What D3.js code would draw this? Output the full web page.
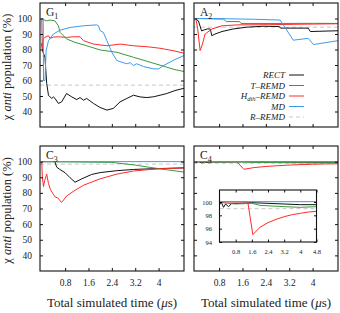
<!DOCTYPE html>
<html>
<head>
<meta charset="utf-8">
<script src="https://cdn.jsdelivr.net/npm/d3@7"></script>
<style>
  body { margin: 0; background: #fff; }
  svg text { fill: #222; }
  .tick line { stroke: #111; }
  .frame { fill: none; stroke: #111; stroke-width: 1.1px; }
  .series { fill: none; stroke-width: 1px; stroke-linejoin: round; }
</style>
</head>
<body>
<svg width="340" height="313" font-family="Liberation Serif"></svg>
<script>
// series names / colours
var seriesNames = ["RECT", "T-REMD", "Hdih-REMD", "MD", "R-REMD"];
var seriesColors = ["#111111", "#3a9a3a", "#ff2a2a", "#3a9cf0", "#c8c8c8"];

var xTicks = [0.8, 1.6, 2.4, 3.2, 4];
var yTicks = [40, 50, 60, 70, 80, 90, 100];
var insetXTicks = [0.8, 1.6, 2.4, 3.2, 4, 4.8];
var insetYTicks = [94, 96, 98, 100];

// G1  [time (us), population (%)]
var g1Rect = [[0,84],[0.03,79],[0.11,75],[0.17,58],[0.23,50.5],[0.34,48.4],[0.4,49.4],[0.45,48.5],[0.57,45.2],[0.68,46.2],[0.85,51.6],[1.03,49.4],[1.2,47.7],[1.31,49],[1.43,47.3],[1.54,48.4],[1.77,45.2],[2.0,42.6],[2.23,40.9],[2.45,42],[2.68,46.2],[2.91,48.4],[3.14,50.5],[3.37,49.4],[3.6,49],[3.83,49.5],[4.05,50.5],[4.28,51.6],[4.56,53.5],[4.87,55]];
var g1Tremd = [[0,99.6],[0.17,98.5],[0.28,99],[0.45,98.5],[0.57,95.3],[0.63,91],[0.85,86.8],[1.14,84.6],[1.54,82.4],[2.0,79.7],[2.57,78.2],[3.14,75],[3.71,71.8],[4.28,68.6],[4.56,67],[4.87,65.8]];
var g1Hdih = [[0,100],[0.02,80],[0.05,87],[0.11,87.8],[0.23,88.9],[0.28,87.2],[0.4,88],[0.57,88.2],[0.85,87.8],[1.08,88.2],[1.31,88.2],[1.43,85.7],[1.77,83.5],[2.23,82.4],[2.68,83.5],[3.14,82.4],[3.6,81.8],[4.05,80.8],[4.56,79],[4.87,77.6]];
var g1Md = [[0,100],[0.05,100],[0.06,60],[0.11,60],[0.15,79.3],[0.23,85.7],[0.4,90],[0.63,92.5],[0.97,94.2],[1.43,95.3],[1.88,95.9],[1.94,95.3],[2.0,92.1],[2.11,91],[2.23,85.7],[2.4,78.2],[2.57,72.9],[2.74,71.8],[2.91,70.8],[3.03,71.5],[3.14,69.7],[3.25,70.8],[3.48,69],[3.83,67.5],[4.0,67.5],[4.17,69.7],[4.39,71.8],[4.56,73.5],[4.87,76.1]];
var g1Rremd = 57;

// A2
var a2Rect = [[0,99.6],[0.09,98.5],[0.2,92],[0.31,92.8],[0.4,93.3],[0.5,93.2],[0.55,88.9],[0.66,90],[0.9,91.6],[1.27,93.2],[1.74,94.4],[2.3,95],[2.86,94.8],[2.9,93.8],[3.85,93.8],[3.92,91.6],[4.87,92.1]];
var a2Tremd = [[0,100],[0.95,99.6],[1.05,98],[1.5,98],[1.55,96.8],[3.0,96.8],[4.0,96.9],[4.87,96.8]];
var a2Hdih = [[0,100],[0.06,94.2],[0.15,79.3],[0.23,83.5],[0.32,90],[0.55,93.2],[0.9,95.3],[1.45,95.9],[2.5,96],[3.5,96.3],[4.87,96.6]];
var a2Md = [[0,100],[0.6,100],[2.0,99.5],[2.89,99],[3.34,86],[3.85,87.2],[4.03,83.2],[4.87,85.7]];
var a2Rremd = 94.4;

// C3
var c3Rect = [[0,100],[0.45,100],[0.51,96.5],[0.62,95],[0.8,92.9],[0.97,89.7],[1.14,86.8],[1.37,89],[1.71,91.8],[2.0,93],[2.57,94.2],[3.14,95],[3.71,95.4],[4.28,95.7],[4.87,96]];
var c3Tremd = [[0,100],[1.0,99.8],[2.4,99.5],[3.2,97.8],[3.71,96.3],[4.28,94.8],[4.87,93.3]];
var c3Hdih = [[0,100],[0.02,90],[0.06,84],[0.1,88],[0.17,92],[0.23,86],[0.3,82],[0.4,79],[0.45,77.5],[0.57,76.5],[0.62,75],[0.68,74],[0.75,75.5],[0.85,78],[1.14,81.7],[1.43,84.9],[2.0,89],[2.57,92],[3.14,94],[3.71,95],[4.28,95.6],[4.87,96]];
var c3Md = [[0,100],[4.87,100]];
var c3Rremd = 98.4;

// C4 (also used for the inset)
var c4Rect = [[0,99.6],[0.1,99.9],[0.2,99.2],[0.3,99.7],[0.45,99.3],[0.6,99.8],[1.0,99.8],[1.6,99.9],[2.4,99.8],[3.2,99.7],[4.0,99.6],[4.87,99.6]];
var c4Tremd = [[0,100],[0.4,99.8],[0.8,99.7],[1.6,99.8],[2.0,99.5],[2.6,99.4],[3.2,99.3],[4.0,99.2],[4.87,99.3]];
var c4Hdih = [[0,100],[1.4,100],[1.65,95.1],[2.0,96.2],[2.4,96.9],[2.8,97.4],[3.2,97.8],[3.6,98.1],[4.0,98.3],[4.4,98.5],[4.87,98.6]];
var c4Md = [[0,100.05],[4.87,100.05]];
var c4Rremd = 99;

var panels = [
  {label: "G", sub: "1", x0: 40, x1: 184, y0: 3, y1: 127, left: true, bottom: false,
   lines: [g1Rect, g1Tremd, g1Hdih, g1Md], rremd: g1Rremd},
  {label: "A", sub: "2", x0: 194, x1: 338, y0: 3, y1: 127, left: false, bottom: false,
   lines: [a2Rect, a2Tremd, a2Hdih, a2Md], rremd: a2Rremd, legend: true},
  {label: "C", sub: "3", x0: 40, x1: 184, y0: 146, y1: 271, left: true, bottom: true,
   lines: [c3Rect, c3Tremd, c3Hdih, c3Md], rremd: c3Rremd},
  {label: "C", sub: "4", x0: 194, x1: 338, y0: 146, y1: 271, left: false, bottom: true,
   lines: [c4Rect, c4Tremd, c4Hdih, c4Md], rremd: c4Rremd, inset: true}
];

var svg = d3.select("svg");
var fmt = function(d) { return String(d); };
var serif = "Liberation Serif";

function drawBox(g, x, y, xt, yt, showX, showY, tick, fontSize, clipId, lines, rremd, xmax) {
  var x0 = x.range()[0], x1 = x.range()[1], yb = y.range()[0], yt0 = y.range()[1];

  g.append("clipPath").attr("id", clipId)
    .append("rect").attr("x", x0).attr("y", yt0).attr("width", x1 - x0).attr("height", yb - yt0);

  var plot = g.append("g").attr("clip-path", "url(#" + clipId + ")");

  plot.append("line")
      .attr("x1", x0).attr("x2", x1)
      .attr("y1", y(rremd)).attr("y2", y(rremd))
      .attr("stroke", seriesColors[4]).attr("stroke-width", 1)
      .attr("stroke-dasharray", "4,3");

  var line = d3.line()
      .x(function(d) { return x(Math.min(d[0], xmax)); })
      .y(function(d) { return y(d[1]); });

  lines.forEach(function(data, i) {
    plot.append("path")
        .attr("class", "series")
        .attr("d", line(data))
        .attr("stroke", seriesColors[i]);
  });

  var axB = g.append("g").attr("transform", "translate(0," + yb + ")")
      .call(d3.axisBottom(x).tickValues(xt).tickSize(-tick).tickPadding(tick + 5).tickFormat(showX ? fmt : ""));
  var axT = g.append("g").attr("transform", "translate(0," + yt0 + ")")
      .call(d3.axisTop(x).tickValues(xt).tickSize(-tick).tickFormat(""));
  var axL = g.append("g").attr("transform", "translate(" + x0 + ",0)")
      .call(d3.axisLeft(y).tickValues(yt).tickSize(-tick).tickPadding(tick + 5).tickFormat(showY ? fmt : ""));
  var axR = g.append("g").attr("transform", "translate(" + x1 + ",0)")
      .call(d3.axisRight(y).tickValues(yt).tickSize(-tick).tickFormat(""));
  [axB, axT, axL, axR].forEach(function(a) {
    a.attr("font-family", serif).attr("font-size", fontSize);
    a.select(".domain").remove();
    a.selectAll("text").attr("fill", "#222");
  });

  g.append("rect").attr("class", "frame")
      .attr("x", x0).attr("y", yt0).attr("width", x1 - x0).attr("height", yb - yt0);
}

panels.forEach(function(p, k) {
  var g = svg.append("g").attr("font-family", serif);
  var x = d3.scaleLinear().domain([-0.06, 4.87]).range([p.x0, p.x1]);
  var y = d3.scaleLinear().domain([30, 110]).range([p.y1, p.y0]);

  drawBox(g, x, y, xTicks, yTicks, p.bottom, p.left, 3, 9.5, "clip" + k, p.lines, p.rremd, 4.87);

  var lab = g.append("text").attr("x", p.x0 + 6).attr("y", p.y0 + 12.5)
      .attr("font-size", 11.5);
  lab.append("tspan").text(p.label);
  lab.append("tspan").attr("dy", 3).attr("font-size", 8).text(p.sub);

  if (p.legend) {
    var ly = [75, 85.5, 96, 106.5, 117];
    seriesNames.forEach(function(name, i) {
      var t = g.append("text").attr("x", 285).attr("y", ly[i] + 3)
          .attr("text-anchor", "end").attr("font-size", 9).attr("font-style", "italic");
      if (name === "Hdih-REMD") {
        t.append("tspan").text("H");
        t.append("tspan").attr("dy", 2).attr("font-size", 6.5).text("dih");
        t.append("tspan").attr("dy", -2).text("\u2013REMD");
      } else {
        t.text(name.replace("-", "\u2013"));
      }
      g.append("line").attr("x1", 289).attr("x2", 304)
          .attr("y1", ly[i]).attr("y2", ly[i])
          .attr("stroke", seriesColors[i]).attr("stroke-width", 1)
          .attr("stroke-dasharray", i === 4 ? "4,3" : null);
    });
  }

  if (p.inset) {
    var gi = svg.append("g").attr("font-family", serif);
    var xi = d3.scaleLinear().domain([0, 4.8]).range([219.5, 316.5]);
    var yi = d3.scaleLinear().domain([94, 101.8]).range([242, 190]);
    gi.append("rect").attr("x", 219.5).attr("y", 190).attr("width", 97).attr("height", 52).attr("fill", "#fff");
    drawBox(gi, xi, yi, insetXTicks, insetYTicks, true, true, 2.5, 6.5, "clipInset", p.lines, p.rremd, 4.8);
  }

  if (p.left) {
    svg.append("text")
        .attr("transform", "translate(11," + ((p.y0 + p.y1) / 2 + 2) + ") rotate(-90)")
        .attr("text-anchor", "middle").attr("font-family", serif).attr("font-size", 12.5)
        .html("\u03c7 <tspan font-style='italic'>anti</tspan> population (%)");
  }
  if (p.bottom) {
    svg.append("text")
        .attr("x", (p.x0 + p.x1) / 2).attr("y", 307)
        .attr("text-anchor", "middle").attr("font-family", serif).attr("font-size", 13)
        .html("Total simulated time (<tspan font-style='italic'>\u03bc</tspan>s)");
  }
});
</script>
</body>
</html>
